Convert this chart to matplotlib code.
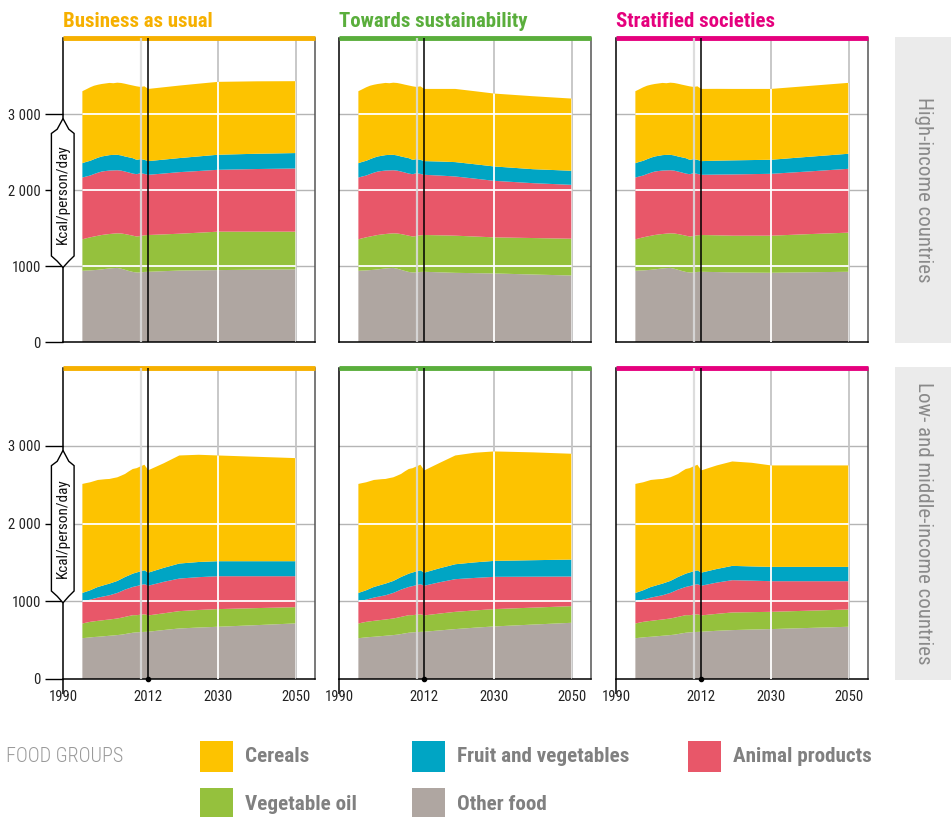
import numpy as np
import matplotlib
matplotlib.use('Agg')
import matplotlib.pyplot as plt
from matplotlib import font_manager
from matplotlib.patches import Polygon, Rectangle

# 字体：尽量找窄一点的无衬线字体
_names = {f.name for f in font_manager.fontManager.ttflist}
for _f in ['Roboto Condensed', 'Liberation Sans Narrow', 'Open Sans', 'DejaVu Sans']:
    if _f in _names:
        plt.rcParams['font.family'] = [_f, 'DejaVu Sans']
        break

# 食物组（从下往上堆叠）
groups = ['Other food', 'Vegetable oil', 'Animal products', 'Fruit and vegetables', 'Cereals']
group_colors = ['#afa6a1', '#95c13d', '#e85769', '#00a5c4', '#fdc300']

scenarios = ['Business as usual', 'Towards sustainability', 'Stratified societies']
scenario_colors = ['#f6b000', '#5aae3c', '#e5007d']
regions = ['High-income countries', 'Low- and middle-income countries']

years_hist = list(range(1995, 2012))
years_proj = [2012, 2016, 2020, 2025, 2030, 2040, 2050]

# 历史数据 kcal/person/day, 1995-2011
hi_hist = {
    'Other food':           [937, 940, 942, 946, 950, 955, 962, 968, 972, 975, 965, 950, 935, 922, 915, 915, 922],
    'Vegetable oil':        [414, 425, 435, 442, 448, 453, 453, 453, 454, 455, 463, 470, 475, 477, 473, 480, 482],
    'Animal products':      [813, 813, 813, 822, 830, 835, 835, 835, 832, 830, 827, 823, 820, 817, 820, 826, 808],
    'Fruit and vegetables': [189, 192, 194, 195, 197, 198, 200, 203, 204, 203, 200, 198, 200, 203, 189, 185, 185],
    'Cereals':              [947, 955, 967, 967, 960, 954, 952, 950, 943, 949, 953, 957, 956, 956, 967, 950, 967],
}
lm_hist = {
    'Other food':           [525, 530, 535, 540, 543, 547, 552, 556, 560, 565, 570, 578, 587, 595, 600, 603, 606],
    'Vegetable oil':        [189, 195, 200, 202, 205, 207, 208, 209, 212, 213, 218, 221, 223, 226, 221, 224, 227],
    'Animal products':      [281, 283, 286, 292, 299, 303, 307, 312, 320, 329, 340, 351, 357, 363, 374, 381, 387],
    'Fruit and vegetables': [112, 116, 120, 129, 137, 141, 146, 150, 152, 154, 158, 162, 166, 171, 175, 177, 178],
    'Cereals':              [1402, 1396, 1389, 1382, 1376, 1367, 1357, 1346, 1340, 1333, 1329, 1325, 1338, 1346, 1342, 1350, 1358],
}

# 情景预测 2012-2050
hi_bau = {
    'Other food':           [924, 932, 940, 943, 946, 952, 955],
    'Vegetable oil':        [484, 484, 485, 495, 506, 500, 497],
    'Animal products':      [792, 801, 810, 812, 814, 824, 831],
    'Fruit and vegetables': [180, 183, 185, 192, 198, 201, 203],
    'Cereals':              [950, 952, 954, 957, 959, 953, 946],
}
hi_sus = {
    'Other food':           [924, 917, 910, 906, 902, 888, 875],
    'Vegetable oil':        [484, 487, 489, 482, 475, 480, 484],
    'Animal products':      [792, 786, 779, 762, 744, 722, 709],
    'Fruit and vegetables': [180, 185, 189, 189, 189, 184, 185],
    'Cereals':              [950, 955, 963, 961, 959, 960, 950],
}
hi_str = {
    'Other food':           [924, 920, 915, 913, 911, 918, 924],
    'Vegetable oil':        [484, 484, 484, 486, 488, 502, 515],
    'Animal products':      [792, 799, 806, 810, 814, 825, 840],
    'Fruit and vegetables': [180, 183, 185, 185, 185, 193, 198],
    'Cereals':              [950, 945, 940, 936, 932, 932, 933],
}
lm_bau = {
    'Other food':           [608, 630, 650, 662, 672, 693, 715],
    'Vegetable oil':        [210, 215, 223, 226, 227, 219, 209],
    'Animal products':      [382, 405, 419, 422, 423, 410, 398],
    'Fruit and vegetables': [168, 180, 193, 195, 193, 193, 193],
    'Cereals':              [1317, 1345, 1390, 1379, 1360, 1343, 1326],
}
lm_sus = {
    'Other food':           [608, 625, 642, 660, 676, 700, 723],
    'Vegetable oil':        [210, 217, 222, 222, 223, 218, 214],
    'Animal products':      [382, 403, 420, 418, 415, 398, 381],
    'Fruit and vegetables': [168, 180, 192, 200, 205, 212, 218],
    'Cereals':              [1315, 1355, 1399, 1410, 1408, 1387, 1361],
}
lm_str = {
    'Other food':           [608, 620, 629, 636, 642, 657, 672],
    'Vegetable oil':        [210, 218, 227, 224, 222, 222, 222],
    'Animal products':      [382, 402, 415, 405, 394, 379, 364],
    'Fruit and vegetables': [168, 175, 184, 183, 184, 184, 184],
    'Cereals':              [1315, 1332, 1343, 1333, 1305, 1305, 1305],
}

panels = [[(hi_hist, hi_bau), (hi_hist, hi_sus), (hi_hist, hi_str)],
          [(lm_hist, lm_bau), (lm_hist, lm_sus), (lm_hist, lm_str)]]

W, H = 951, 817
fig = plt.figure(figsize=(W / 100, H / 100), dpi=100)

col_left = [63, 339, 616]
col_w = 252
row_span = [(38, 342), (368, 679)]

x = years_hist + years_proj
for r in range(2):
    top_px, bot_px = row_span[r]
    for c in range(3):
        ax = fig.add_axes([col_left[c] / W, (H - bot_px) / H, col_w / W, (bot_px - top_px) / H])
        hist, proj = panels[r][c]
        series = [hist[g] + proj[g] for g in groups]
        ax.stackplot(x, *series, colors=group_colors, linewidth=0, zorder=2)
        total = np.sum(series, axis=0)
        clip = ax.fill_between(x, 0, total, facecolor='none', edgecolor='none')
        cpath, ctrans = clip.get_paths()[0], clip.get_transform()

        # 网格：外面灰色，面积里面白色
        for yv in [1000, 2000, 3000]:
            ax.axhline(yv, color='#b5b5b5', lw=1, zorder=1)
            ln = ax.axhline(yv, color='white', lw=1.3, zorder=3)
            ln.set_clip_path(cpath, ctrans)
        for xv in [2030, 2050]:
            ax.axvline(xv, color='#c4c4c4', lw=1.3, zorder=1)
            ln = ax.axvline(xv, color='white', lw=1.3, zorder=3)
            ln.set_clip_path(cpath, ctrans)
        ax.axvline(2010, color='#dadada', lw=1.6, alpha=0.9, zorder=3)
        ax.axvline(2012, color='black', lw=1.1, zorder=4)

        ax.set_xlim(1990, 2055)
        ax.set_ylim(0, 4000)

        ax.spines['left'].set_color('black')
        ax.spines['bottom'].set_color('black')
        ax.spines['right'].set_color('#555555')
        for s in ['left', 'bottom', 'right']:
            ax.spines[s].set_linewidth(1.1)
        ax.spines['top'].set_color(scenario_colors[c])
        ax.spines['top'].set_linewidth(3.5)
        ax.spines['top'].set_capstyle('butt')

        if c == 0:
            ax.set_yticks([0, 1000, 2000, 3000])
            ax.set_yticklabels(['0', '1000', '2 000', '3 000'])
            ax.tick_params(axis='y', length=13, width=1, color='black', pad=3,
                           labelsize=10.5, labelcolor='#222222')
            # Kcal/person/day 标签框
            shape = [(0, 0.735), (0.023, 0.70), (0.044, 0.686), (0.044, 0.283),
                     (0.023, 0.266), (0, 0.245), (-0.023, 0.266), (-0.046, 0.283),
                     (-0.046, 0.686), (-0.023, 0.70)]
            ax.add_patch(Polygon(shape, closed=True, transform=ax.transAxes, facecolor='white',
                                 edgecolor='black', lw=1, zorder=6, clip_on=False))
            ax.text(-0.002, 0.485, 'Kcal/person/day', rotation=90, transform=ax.transAxes,
                    ha='center', va='center', fontsize=11, color='#111111', zorder=7)
        else:
            ax.set_yticks([])

        if r == 1:
            ax.set_xticks([1990, 2012, 2030, 2050])
            ax.tick_params(axis='x', length=0, pad=8, labelsize=10.5, labelcolor='#222222')
            t0 = ax.xaxis.get_major_ticks()[0]
            t0.tick1line.set_markersize(11)
            t0.tick1line.set_markeredgewidth(1.1)
            ax.plot([2012], [0], 'o', color='black', ms=3, clip_on=False, zorder=6)
        else:
            ax.set_xticks([])
            ax.set_title(scenarios[c], loc='left', color=scenario_colors[c], fontsize=15,
                         fontweight='bold', pad=8)

# 右侧地区标签
for r in range(2):
    top_px, bot_px = row_span[r]
    fig.patches.append(Rectangle((895 / W, (H - bot_px - 1) / H), (W - 895) / W,
                                 (bot_px - top_px + 2) / H, transform=fig.transFigure,
                                 facecolor='#ebebeb', edgecolor='none'))
    fig.text(923 / W, (H - (top_px + bot_px) / 2) / H, regions[r], rotation=270,
             ha='center', va='center', fontsize=15, color='#8a8a8a')

# 图例
fig.text(6 / W, (H - 756) / H, 'FOOD GROUPS', fontsize=14.5, fontweight='light',
         color='#9a9a9a', va='center')
legend_items = [('Cereals', 200, 741), ('Fruit and vegetables', 412, 741), ('Animal products', 688, 741),
                ('Vegetable oil', 200, 788), ('Other food', 412, 788)]
for name, lx, ly in legend_items:
    col = group_colors[groups.index(name)]
    fig.patches.append(Rectangle((lx / W, (H - ly - 31) / H), 33 / W, 31 / H,
                                 transform=fig.transFigure, facecolor=col, edgecolor='none'))
    fig.text((lx + 45) / W, (H - ly - 16) / H, name, fontsize=15.2, fontweight='bold',
             color='#808080', va='center')

plt.savefig('out.png', dpi=100)
